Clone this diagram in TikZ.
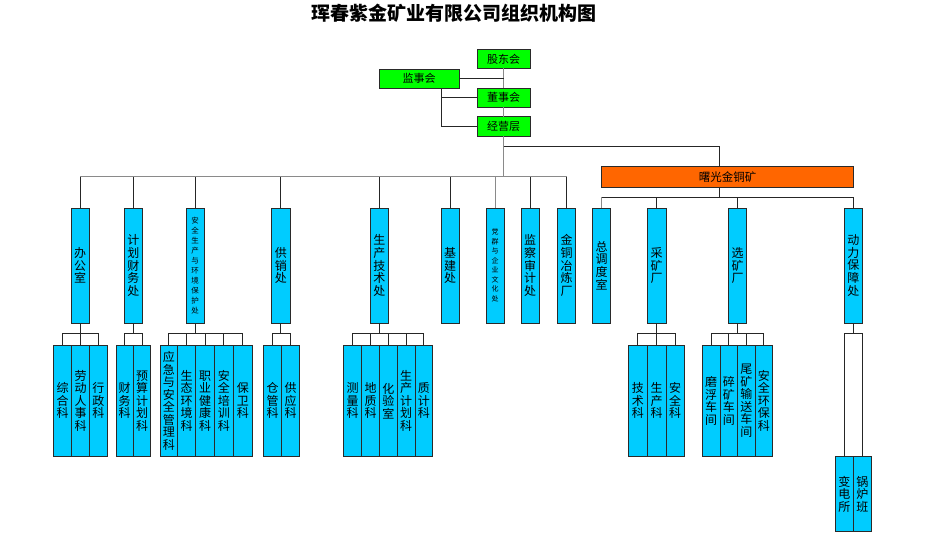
\documentclass[tikz,border=0pt]{standalone}
\usepackage{fontspec}
\newfontfamily\cjk{Noto Sans CJK SC}
\definecolor{boxgreen}{HTML}{00FF00}
\definecolor{boxblue}{HTML}{00CCFF}
\definecolor{boxorange}{HTML}{FF6600}
\definecolor{edgecol}{HTML}{2A2A2A}
\definecolor{linegray}{HTML}{8A8A8A}
\newcommand\mkbox[7]{%
  \node[#2, minimum width={(#4-#3)*1pt}, minimum height={(#6-#5)*1pt}]
    (#1) at ({(#3+#4)/2},{(#5+#6)/2}) {#7};}
\tikzset{
  basebox/.style={draw=edgecol, line width=0.8pt, inner sep=0pt, outer sep=0pt, align=center, text=black},
  greenbox/.style={basebox, fill=boxgreen, font=\cjk\fontsize{11}{12}\selectfont},
  orangebox/.style={basebox, fill=boxorange, font=\cjk\fontsize{11.5}{12}\selectfont},
  bluebox/.style={basebox, fill=boxblue, font=\cjk\fontsize{12}{12.6}\selectfont},
  smallbluebox/.style={basebox, fill=boxblue, font=\cjk\fontsize{7.5}{10}\selectfont},
  tinybluebox/.style={basebox, fill=boxblue, font=\cjk\fontsize{7}{9.5}\selectfont},
  leafbox/.style={basebox, fill=boxblue, font=\cjk\fontsize{12}{12.5}\selectfont},
  conn/.style={draw=black!85, line width=0.8pt},
  gconn/.style={draw=linegray, line width=0.9pt},
}
\begin{document}
\begin{tikzpicture}[x=1pt, y=-1pt]
\useasboundingbox[fill=white] (0,0) rectangle (925,544);

\node[font=\cjk\bfseries\fontsize{19}{19}\selectfont] (title) at (453.5,13.5) {珲春紫金矿业有限公司组织机构图};

% top level
\mkbox{gdh}{greenbox}{477}{530}{49.3}{68.3}{股东会}
\mkbox{jsh}{greenbox}{379}{459}{69}{88}{监事会}
\mkbox{dsh}{greenbox}{477}{530}{88.3}{107.3}{董事会}
\mkbox{jyc}{greenbox}{477}{530}{116.7}{136}{经营层}

\coordinate (yb) at (0,146.7);
\coordinate (y2) at (0,176.7);
\coordinate (y2b) at (0,197.3);
\coordinate (y3) at (0,333.3);
\coordinate (jx) at (441.7,88);
\coordinate (sgin) at (719.3,166.7);
\coordinate (sgout) at (719.3,187.3);

% second level
\mkbox{d1}{bluebox}{71}{89.3}{208}{323}{办\\公\\室}
\mkbox{d2}{bluebox}{124}{142.7}{208}{323}{计\\划\\财\\务\\处}
\mkbox{d3}{smallbluebox}{186}{204.3}{208}{323}{安\\全\\生\\产\\与\\环\\境\\保\\护\\处}
\mkbox{d4}{bluebox}{271.7}{290}{208}{323}{供\\销\\处}
\mkbox{d5}{bluebox}{370}{388.7}{208}{323}{生\\产\\技\\术\\处}
\mkbox{d6}{bluebox}{441}{459.3}{208}{323}{基\\建\\处}
\mkbox{d7}{tinybluebox}{486}{504}{208}{323}{党\\群\\与\\企\\业\\文\\化\\处}
\mkbox{d8}{bluebox}{521}{539}{208}{323}{监\\察\\审\\计\\处}
\mkbox{d9}{bluebox}{557.7}{575.7}{208}{323}{金\\铜\\冶\\炼\\厂}

\mkbox{sg}{orangebox}{601.7}{853.3}{166.7}{187.3}{曙光金铜矿}
\mkbox{m1}{bluebox}{592.7}{610.7}{208}{323}{总\\调\\度\\室}
\mkbox{m2}{bluebox}{647.3}{666}{208}{323}{采\\矿\\厂}
\mkbox{m3}{bluebox}{728.3}{746.7}{208}{323}{选\\矿\\厂}
\mkbox{m4}{bluebox}{844.3}{862.3}{208}{323}{动\\力\\保\\障\\处}

% third level
\mkbox{a1}{leafbox}{53.3}{71.7}{345}{456.7}{综\\合\\科}
\mkbox{a2}{leafbox}{71.7}{89.3}{345}{456.7}{劳\\动\\人\\事\\科}
\mkbox{a3}{leafbox}{89.3}{107.3}{345}{456.7}{行\\政\\科}

\mkbox{b1}{leafbox}{116}{133.3}{345}{456.7}{财\\务\\科}
\mkbox{b2}{leafbox}{133.3}{150.7}{345}{456.7}{预\\算\\计\\划\\科}

\mkbox{c1}{leafbox}{160}{177.7}{345}{456.7}{应\\急\\与\\安\\全\\管\\理\\科}
\mkbox{c2}{leafbox}{177.7}{195.7}{345}{456.7}{生\\态\\环\\境\\科}
\mkbox{c3}{leafbox}{195.7}{214.3}{345}{456.7}{职\\业\\健\\康\\科}
\mkbox{c4}{leafbox}{214.3}{233.3}{345}{456.7}{安\\全\\培\\训\\科}
\mkbox{c5}{leafbox}{233.3}{252.3}{345}{456.7}{保\\卫\\科}

\mkbox{e1}{leafbox}{263.3}{281.7}{345}{456.7}{仓\\管\\科}
\mkbox{e2}{leafbox}{281.7}{299.3}{345}{456.7}{供\\应\\科}

\mkbox{f1}{leafbox}{343.3}{361.7}{345}{456.7}{测\\量\\科}
\mkbox{f2}{leafbox}{361.7}{379.3}{345}{456.7}{地\\质\\科}
\mkbox{f3}{leafbox}{379.3}{397.3}{345}{456.7}{化\\验\\室}
\mkbox{f4}{leafbox}{397.3}{415}{345}{456.7}{生\\产\\计\\划\\科}
\mkbox{f5}{leafbox}{415}{432.7}{345}{456.7}{质\\计\\科}

\mkbox{g1}{leafbox}{628.3}{647.3}{345}{456.7}{技\\术\\科}
\mkbox{g2}{leafbox}{647.3}{666}{345}{456.7}{生\\产\\科}
\mkbox{g3}{leafbox}{666}{684}{345}{456.7}{安\\全\\科}

\mkbox{h1}{leafbox}{702.3}{720}{345}{456.7}{磨\\浮\\车\\间}
\mkbox{h2}{leafbox}{720}{737.7}{345}{456.7}{碎\\矿\\车\\间}
\mkbox{h3}{leafbox}{737.7}{755}{345}{456.7}{尾\\矿\\输\\送\\车\\间}
\mkbox{h4}{leafbox}{755}{772.7}{345}{456.7}{安\\全\\环\\保\\科}

\mkbox{k1}{leafbox}{835.3}{853.3}{456.7}{531.7}{变\\电\\所}
\mkbox{k2}{leafbox}{853.3}{871.3}{456.7}{531.7}{锅\\炉\\班}

% connectors: top
\draw[gconn] (gdh.south) -- (dsh.north);
\draw[gconn] (dsh.south) -- (jyc.north);
\draw[conn] (jsh.east) -- (jsh.east -| gdh.south);
\draw[conn] (jx) |- (jyc.west);
\draw[conn] (jx |- dsh.west) -- (dsh.west);
\draw[gconn] (jyc.south) -- (jyc.south |- y2);
\draw[conn] (jyc.south |- yb) -| (sgin);

% main bar
\draw[gconn] (d1.north |- y2) -- (d9.north |- y2);
\foreach \n in {d1,d2,d3,d4,d5,d6,d8,d9}
  \draw[conn] (\n.north) -- (\n.north |- y2);
\draw[gconn] (d7.north) -- (d7.north |- y2);

% mine bar
\draw[conn] (sgout) -- (sgout |- y2b);
\draw[conn] (m1.north |- y2b) -- (m4.north |- y2b);
\draw[gconn] (m1.north) -- (m1.north |- y2b);
\foreach \n in {m2,m3,m4}
  \draw[conn] (\n.north) -- (\n.north |- y2b);

% group bars
\foreach \p/\first/\last/\kids in {d1/a1/a3/{a1,a2,a3}, d2/b1/b2/{b1,b2}, d3/c1/c5/{c1,c2,c3,c4,c5}, d4/e1/e2/{e1,e2}, d5/f1/f5/{f1,f2,f3,f4,f5}, m2/g1/g3/{g1,g2,g3}, m3/h1/h4/{h1,h2,h3,h4}, m4/k1/k2/{k1,k2}}{
  \draw[conn] (\p.south) -- (\p.south |- y3);
  \draw[conn] (\first.north |- y3) -- (\last.north |- y3);
  \foreach \c in \kids
    \draw[conn] (\c.north) -- (\c.north |- y3);
}
\end{tikzpicture}
\end{document}
